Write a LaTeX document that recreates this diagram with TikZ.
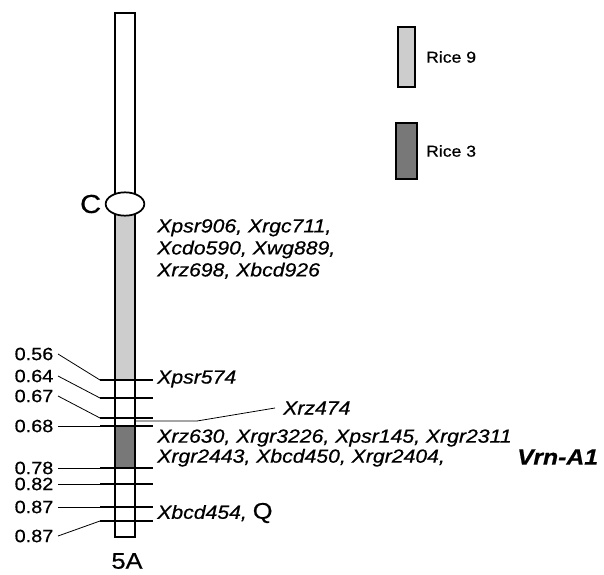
\documentclass[tikz,border=0pt]{standalone}
\usepackage{fontspec}
\setmainfont{Liberation Sans}[FakeStretch=1.12, FakeBold=0.6]
\usepackage{xcolor}
\usetikzlibrary{positioning, calc, shapes.geometric}

\definecolor{rice9}{HTML}{CDCDCD}
\definecolor{rice3}{HTML}{787878}

\begin{document}
\begin{tikzpicture}[
    x=0.75pt, y=-0.75pt,
    every node/.style={inner sep=0pt},
    marker/.style={
        font=\fontsize{14.2}{16.5}\selectfont\itshape,
        anchor=west,
        align=left
    },
    dist/.style={
        font=\fontsize{13.3}{15}\selectfont,
        anchor=east,
        outer sep=3.5pt
    },
    chrom/.style={
        draw,
        line width=1.3pt
    },
    centro/.style={
        ellipse,
        draw,
        fill=white,
        line width=1.3pt,
        minimum width=29pt,
        minimum height=17.5pt
    },
    legbox/.style={
        rectangle,
        draw,
        line width=1.3pt
    },
    tick/.style={line width=1.2pt},
    leader/.style={line width=0.6pt}
]
\useasboundingbox (0,0) rectangle (604,575);

% Chromosome
\fill[white] (115,13) rectangle (135,537);
\fill[rice9] (115,210) rectangle (135,380);
\fill[rice3] (115,426) rectangle (135,468);
\draw[chrom] (115,13) rectangle (135,537);
\node[centro] (cen) at (125,204) {};
\node[font=\fontsize{19.5}{22}\selectfont, left=2.5pt of cen] (clab) {C};
\node[font=\fontsize{17}{20}\selectfont] (arm) at (127,561) {5A};

% Distances
\foreach \lab/\y/\ly [count=\i] in {0.56/380/354, 0.64/398/376, 0.67/418/396,
    0.68/426/426, 0.78/468/468, 0.82/484/484, 0.87/507/507, 0.87/521/536} {
    \node[dist] (d\i) at (58,\ly) {\lab};
    \coordinate (t\i) at (100,\y);
    \draw[leader] (d\i.east) -- (t\i);
    \draw[tick] (t\i) -- ++(53,0);
}

% Markers
\node[marker, font=\fontsize{14.2}{16.5}\selectfont\itshape] (top) at (157,249)
    {Xpsr906, Xrgc711,\\Xcdo590, Xwg889,\\Xrz698, Xbcd926};
\node[marker] (psr574) at (157,379) {Xpsr574};
\node[marker] (rz474) at (283,408) {Xrz474};
\node[marker, font=\fontsize{14.2}{15}\selectfont\itshape] (vrn) at (157,448)
    {Xrz630, Xrgr3226, Xpsr145, Xrgr2311\\Xrgr2443, Xbcd450, Xrgr2404,};
\node[marker] (bcd454) at (157,513)
    {Xbcd454, {\fontsize{17}{18}\selectfont\upshape Q}};
\node[font=\fontsize{16.6}{18}\selectfont\bfseries\itshape, anchor=west] (vrnA1)
    at (517,457) {Vrn-A1};

\coordinate (r474) at (135,421);
\coordinate (kink) at (197,421);
\draw[leader] (r474) -- (kink) -- ([xshift=-6pt]rz474.west);

% Legend
\node[legbox, fill=rice9, minimum width=12.75pt, minimum height=45pt] (leg9)
    at (406.5,57) {};
\node[legbox, fill=rice3, minimum width=15.75pt, minimum height=42pt] (leg3)
    at (406.5,151) {};
\node[font=\fontsize{11.8}{14}\selectfont, right=7.5pt of leg9] (lab9) {Rice 9};
\node[font=\fontsize{11.8}{14}\selectfont, right=6pt of leg3] (lab3) {Rice 3};

\end{tikzpicture}
\end{document}
